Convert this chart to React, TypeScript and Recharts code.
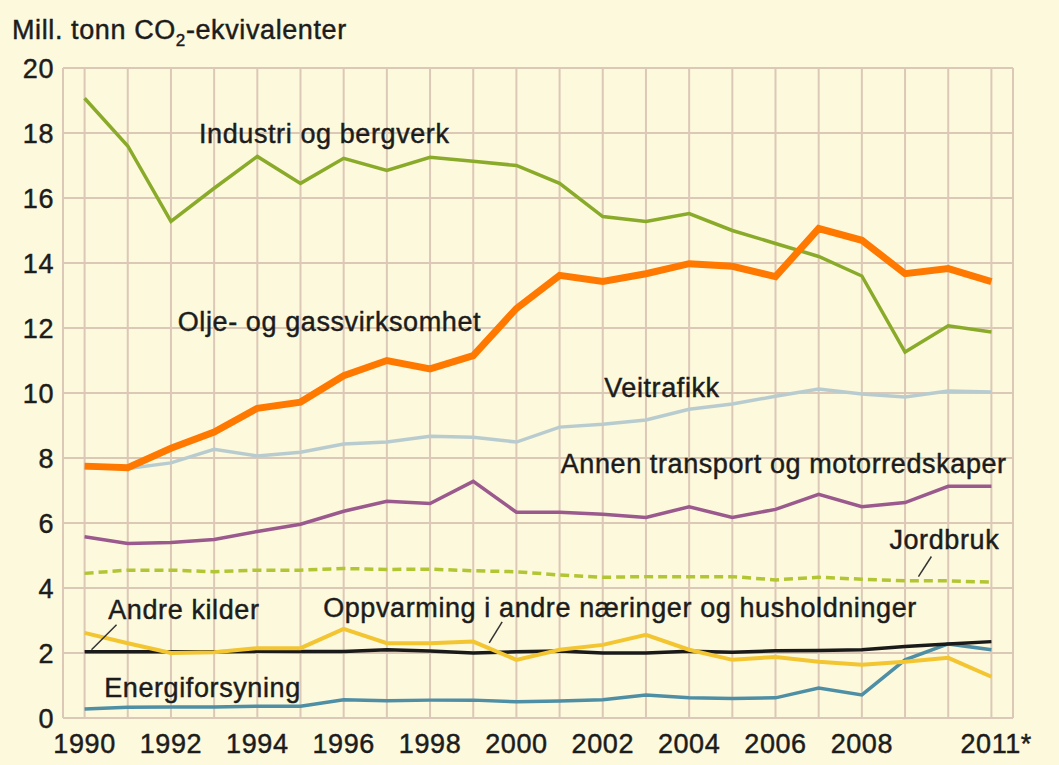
import React from 'react';
import { LineChart, Line, XAxis, YAxis, CartesianGrid, ReferenceDot, ReferenceLine } from 'recharts';

const years = [1990, 1991, 1992, 1993, 1994, 1995, 1996, 1997, 1998, 1999, 2000, 2001, 2002, 2003, 2004, 2005, 2006, 2007, 2008, 2009, 2010, 2011];
const labeledYears = [1990, 1992, 1994, 1996, 1998, 2000, 2002, 2004, 2006, 2008, 2011];
const yTicks = [0, 2, 4, 6, 8, 10, 12, 14, 16, 18, 20];

const industri = [19.07, 17.6, 15.28, 16.3, 17.28, 16.45, 17.22, 16.85, 17.25, 17.13, 17.0, 16.45, 15.43, 15.28, 15.52, 15.0, 14.6, 14.2, 13.6, 11.26, 12.07, 11.88];
const olje = [7.75, 7.7, 8.3, 8.8, 9.53, 9.72, 10.53, 11.0, 10.74, 11.15, 12.6, 13.62, 13.43, 13.67, 13.98, 13.9, 13.58, 15.06, 14.7, 13.67, 13.83, 13.43];
const veitrafikk = [7.7, 7.68, 7.85, 8.27, 8.06, 8.18, 8.43, 8.49, 8.67, 8.64, 8.49, 8.95, 9.04, 9.17, 9.5, 9.66, 9.9, 10.12, 9.97, 9.88, 10.06, 10.03];
const annen = [5.58, 5.37, 5.4, 5.49, 5.74, 5.96, 6.36, 6.67, 6.6, 7.28, 6.33, 6.33, 6.27, 6.17, 6.5, 6.17, 6.42, 6.88, 6.5, 6.63, 7.13, 7.13];
const jordbruk = [4.45, 4.55, 4.55, 4.5, 4.55, 4.55, 4.6, 4.57, 4.58, 4.53, 4.5, 4.4, 4.33, 4.35, 4.35, 4.35, 4.25, 4.33, 4.27, 4.22, 4.22, 4.18];
const andre = [2.04, 2.04, 2.04, 2.04, 2.05, 2.05, 2.05, 2.1, 2.06, 2.0, 2.04, 2.06, 2.0, 2.0, 2.05, 2.02, 2.07, 2.08, 2.1, 2.2, 2.28, 2.35];
const oppvarming = [2.62, 2.3, 2.0, 2.02, 2.15, 2.15, 2.74, 2.3, 2.3, 2.35, 1.79, 2.1, 2.25, 2.56, 2.1, 1.79, 1.88, 1.73, 1.64, 1.73, 1.85, 1.27];
const energi = [0.28, 0.33, 0.34, 0.34, 0.36, 0.36, 0.56, 0.53, 0.55, 0.55, 0.5, 0.52, 0.56, 0.71, 0.62, 0.6, 0.62, 0.92, 0.71, 1.79, 2.28, 2.1];

const annotations = [
  { text: 'Industri og bergverk', x: 1995.55, y: 18.0 },
  { text: 'Olje- og gassvirksomhet', x: 1995.67, y: 12.22 },
  { text: 'Veitrafikk', x: 2003.37, y: 10.19 },
  { text: 'Annen transport og motorredskaper', x: 2006.19, y: 7.84 },
  { text: 'Jordbruk', x: 2009.91, y: 5.49 },
  { text: 'Andre kilder', x: 1992.3, y: 3.33 },
  { text: 'Oppvarming i andre næringer og husholdninger', x: 2002.4, y: 3.4 },
  { text: 'Energiforsyning', x: 1992.73, y: 0.93 },
];

const leaders = [
  { x1: 1990.74, y1: 2.87, x2: 1990.16, y2: 2.1 },
  { x1: 1999.67, y1: 2.96, x2: 1999.37, y2: 2.31 },
  { x1: 2009.61, y1: 4.97, x2: 2009.31, y2: 4.35 },
];

const data = years.map((yr, i) => ({
  year: yr,
  industri: industri[i],
  olje: olje[i],
  veitrafikk: veitrafikk[i],
  annen: annen[i],
  jordbruk: jordbruk[i],
  andre: andre[i],
  oppvarming: oppvarming[i],
  energi: energi[i],
}));

const FONT = '"Liberation Sans", Arial, Helvetica, sans-serif';
const TEXT = '#1c1c1c';
const GRID = '#dcc8b7';
const BG = '#fdf9dc';
const TXT_STROKE = 0.45;

const XTick = (props: any) => {
  const { x, y, payload } = props;
  const v = payload.value;
  if (!labeledYears.includes(v)) return null;
  if (v === 2011) {
    return (
      <text x={x - 31} y={y + 35} textAnchor="start" fill={TEXT} stroke={TEXT} strokeWidth={TXT_STROKE} fontSize={27} fontFamily={FONT} letterSpacing={0.6}>
        2011*
      </text>
    );
  }
  return (
    <text x={x} y={y + 35} textAnchor="middle" fill={TEXT} stroke={TEXT} strokeWidth={TXT_STROKE} fontSize={27} fontFamily={FONT} letterSpacing={0.6}>
      {v}
    </text>
  );
};

const YTick = (props: any) => {
  const { x, y, payload } = props;
  return (
    <text x={x} y={y} dy="0.36em" textAnchor="end" fill={TEXT} stroke={TEXT} strokeWidth={TXT_STROKE} fontSize={27} fontFamily={FONT} letterSpacing={0.6}>
      {payload.value}
    </text>
  );
};

export default function App() {
  return (
    <div style={{ position: 'absolute', left: 0, top: 0, width: 1059, height: 765, background: BG, overflow: 'hidden' }}>
      <div
        style={{
          position: 'absolute',
          left: 12,
          top: 17,
          fontFamily: FONT,
          fontSize: 27,
          lineHeight: '27px',
          letterSpacing: 0.6,
          color: TEXT,
          whiteSpace: 'nowrap',
          WebkitTextStroke: `${TXT_STROKE}px ${TEXT}`,
        }}
      >
        Mill. tonn CO<span style={{ fontSize: 17, verticalAlign: -7 }}>2</span>-ekvivalenter
      </div>
      <div style={{ position: 'absolute', left: 0, top: 0 }}>
        <LineChart width={1059} height={765} data={data} margin={{ top: 68, right: 46, bottom: 0, left: 0 }}>
          <CartesianGrid stroke={GRID} strokeWidth={2} />
          <XAxis
            dataKey="year"
            type="number"
            domain={[1989.5, 2011.5]}
            ticks={years}
            interval={0}
            height={47}
            tickSize={0}
            tickMargin={0}
            tickLine={false}
            axisLine={false}
            tick={<XTick />}
          />
          <YAxis
            type="number"
            domain={[0, 20]}
            ticks={yTicks}
            interval={0}
            width={63}
            tickSize={0}
            tickMargin={9}
            tickLine={false}
            axisLine={{ stroke: GRID, strokeWidth: 2 }}
            tick={<YTick />}
          />
          <Line dataKey="energi" stroke="#4e8fa5" strokeWidth={3.5} dot={false} isAnimationActive={false} />
          <Line dataKey="andre" stroke="#1a1a1a" strokeWidth={3.5} dot={false} isAnimationActive={false} />
          <Line dataKey="oppvarming" stroke="#f2c531" strokeWidth={4} dot={false} isAnimationActive={false} />
          <Line dataKey="jordbruk" stroke="#b2c532" strokeWidth={3.5} strokeDasharray="9 5" dot={false} isAnimationActive={false} />
          <Line dataKey="annen" stroke="#9b5a8d" strokeWidth={3.5} dot={false} isAnimationActive={false} />
          <Line dataKey="veitrafikk" stroke="#b8ccd0" strokeWidth={3.5} dot={false} isAnimationActive={false} />
          <Line dataKey="industri" stroke="#8aab2a" strokeWidth={3.5} dot={false} isAnimationActive={false} />
          <Line dataKey="olje" stroke="#ff7800" strokeWidth={7} dot={false} isAnimationActive={false} />
          {leaders.map((l, i) => (
            <ReferenceLine
              key={'l' + i}
              segment={[{ x: l.x1, y: l.y1 }, { x: l.x2, y: l.y2 }]}
              stroke="#333333"
              strokeWidth={1.5}
            />
          ))}
          {annotations.map((a, i) => (
            <ReferenceDot
              key={'a' + i}
              x={a.x}
              y={a.y}
              r={0}
              shape={(p: any) => (
                <text
                  x={p.cx}
                  y={p.cy}
                  dy="0.36em"
                  textAnchor="middle"
                  fill={TEXT}
                  stroke={TEXT}
                  strokeWidth={TXT_STROKE}
                  fontSize={27}
                  fontFamily={FONT}
                  letterSpacing={0.6}
                >
                  {a.text}
                </text>
              )}
            />
          ))}
        </LineChart>
      </div>
    </div>
  );
}
